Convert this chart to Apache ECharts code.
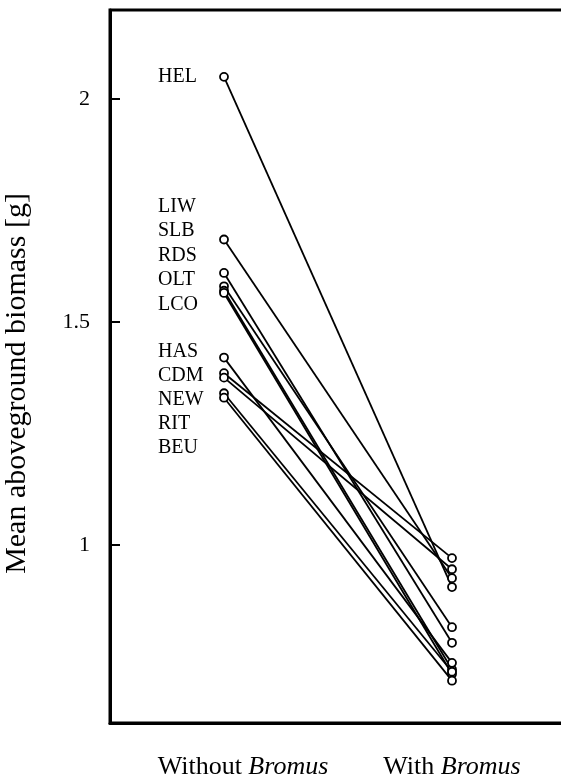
<!DOCTYPE html>
<html>
<head>
    <title>Aboveground biomass with and without Bromus</title>
    <script src="https://cdn.jsdelivr.net/npm/echarts@6/dist/echarts.min.js"></script>
    <style>
        body { margin: 0; background: #fff; }
    </style>
</head>
<body>
<div id="chart" style="width: 561px; height: 778px;"></div>
<script>
    // data
    var categories = ['Without Bromus', 'With Bromus'];
    var sites = ['HEL', 'LIW', 'SLB', 'RDS', 'OLT', 'LCO', 'HAS', 'CDM', 'NEW', 'RIT', 'BEU'];
    var withoutBromus = [2.05, 1.685, 1.61, 1.58, 1.57, 1.565, 1.42, 1.385, 1.375, 1.34, 1.33];
    var withBromus = [0.905, 0.925, 0.78, 0.815, 0.72, 0.71, 0.735, 0.97, 0.945, 0.715, 0.695];
    var yTicks = [1, 1.5, 2];

    var serif = 'Liberation Serif';
    var chart = echarts.init(document.getElementById('chart'));

    var series = sites.map(function (name, i) {
        return {
            name: name,
            type: 'line',
            data: [withoutBromus[i], withBromus[i]],
            symbol: 'circle',
            symbolSize: 8,
            showAllSymbol: true,
            lineStyle: { color: '#000', width: 1.8 },
            itemStyle: { color: '#fff', borderColor: '#000', borderWidth: 1.8 }
        };
    });

    var option = {
        animation: false,
        grid: {
            left: 110, top: 10, width: 456, bottom: 55,
            outerBoundsMode: 'none',
            containLabel: false,
            show: true, borderColor: '#000', borderWidth: 3
        },
        xAxis: {
            type: 'category',
            data: categories,
            boundaryGap: true,
            axisLine: { lineStyle: { color: '#000', width: 3 } },
            axisTick: { inside: true, alignWithLabel: true, length: 10, lineStyle: { color: '#000', width: 2 } },
            axisLabel: {
                margin: 24,
                formatter: function (v, idx) {
                    var parts = v.split(' ');
                    // the first label sits a little right of its tick in the original
                    var lead = idx === 0 ? '{p|}' : '';
                    return lead + '{a|' + parts[0] + ' }{b|' + parts[1] + '}';
                },
                rich: {
                    p: { width: 38 },
                    a: { fontFamily: serif, fontSize: 26, color: '#000' },
                    b: { fontFamily: serif, fontSize: 26, fontStyle: 'italic', color: '#000' }
                }
            }
        },
        yAxis: {
            type: 'value',
            min: 0.6,
            max: 2.2,
            name: 'Mean aboveground biomass [g]',
            nameLocation: 'middle',
            nameGap: 70,
            nameTextStyle: { fontFamily: serif, fontSize: 30, color: '#000', padding: [0, 34, 0, 0] },
            splitLine: { show: false },
            axisLine: { show: true, lineStyle: { color: '#000', width: 3 } },
            axisTick: { show: true, inside: true, length: 10, customValues: yTicks, lineStyle: { color: '#000', width: 2 } },
            axisLabel: {
                customValues: yTicks,
                margin: 20,
                fontFamily: serif,
                fontSize: 22,
                color: '#000',
                formatter: function (v) { return String(v); }
            }
        },
        series: series
    };

    chart.setOption(option);

    // site names listed beside the "without" column
    var helY = chart.convertToPixel({ yAxisIndex: 0 }, withoutBromus[0]);
    function rowY(i) {
        if (i === 0) return helY;
        if (i <= 5) return 206 + (i - 1) * 24.5;
        return 351 + (i - 6) * 24;
    }
    chart.setOption({
        graphic: sites.map(function (name, i) {
            return {
                type: 'text',
                left: 158,
                top: rowY(i) - 15,
                style: { text: name, fontFamily: serif, fontSize: 20, fill: '#000' }
            };
        })
    });
</script>
</body>
</html>
